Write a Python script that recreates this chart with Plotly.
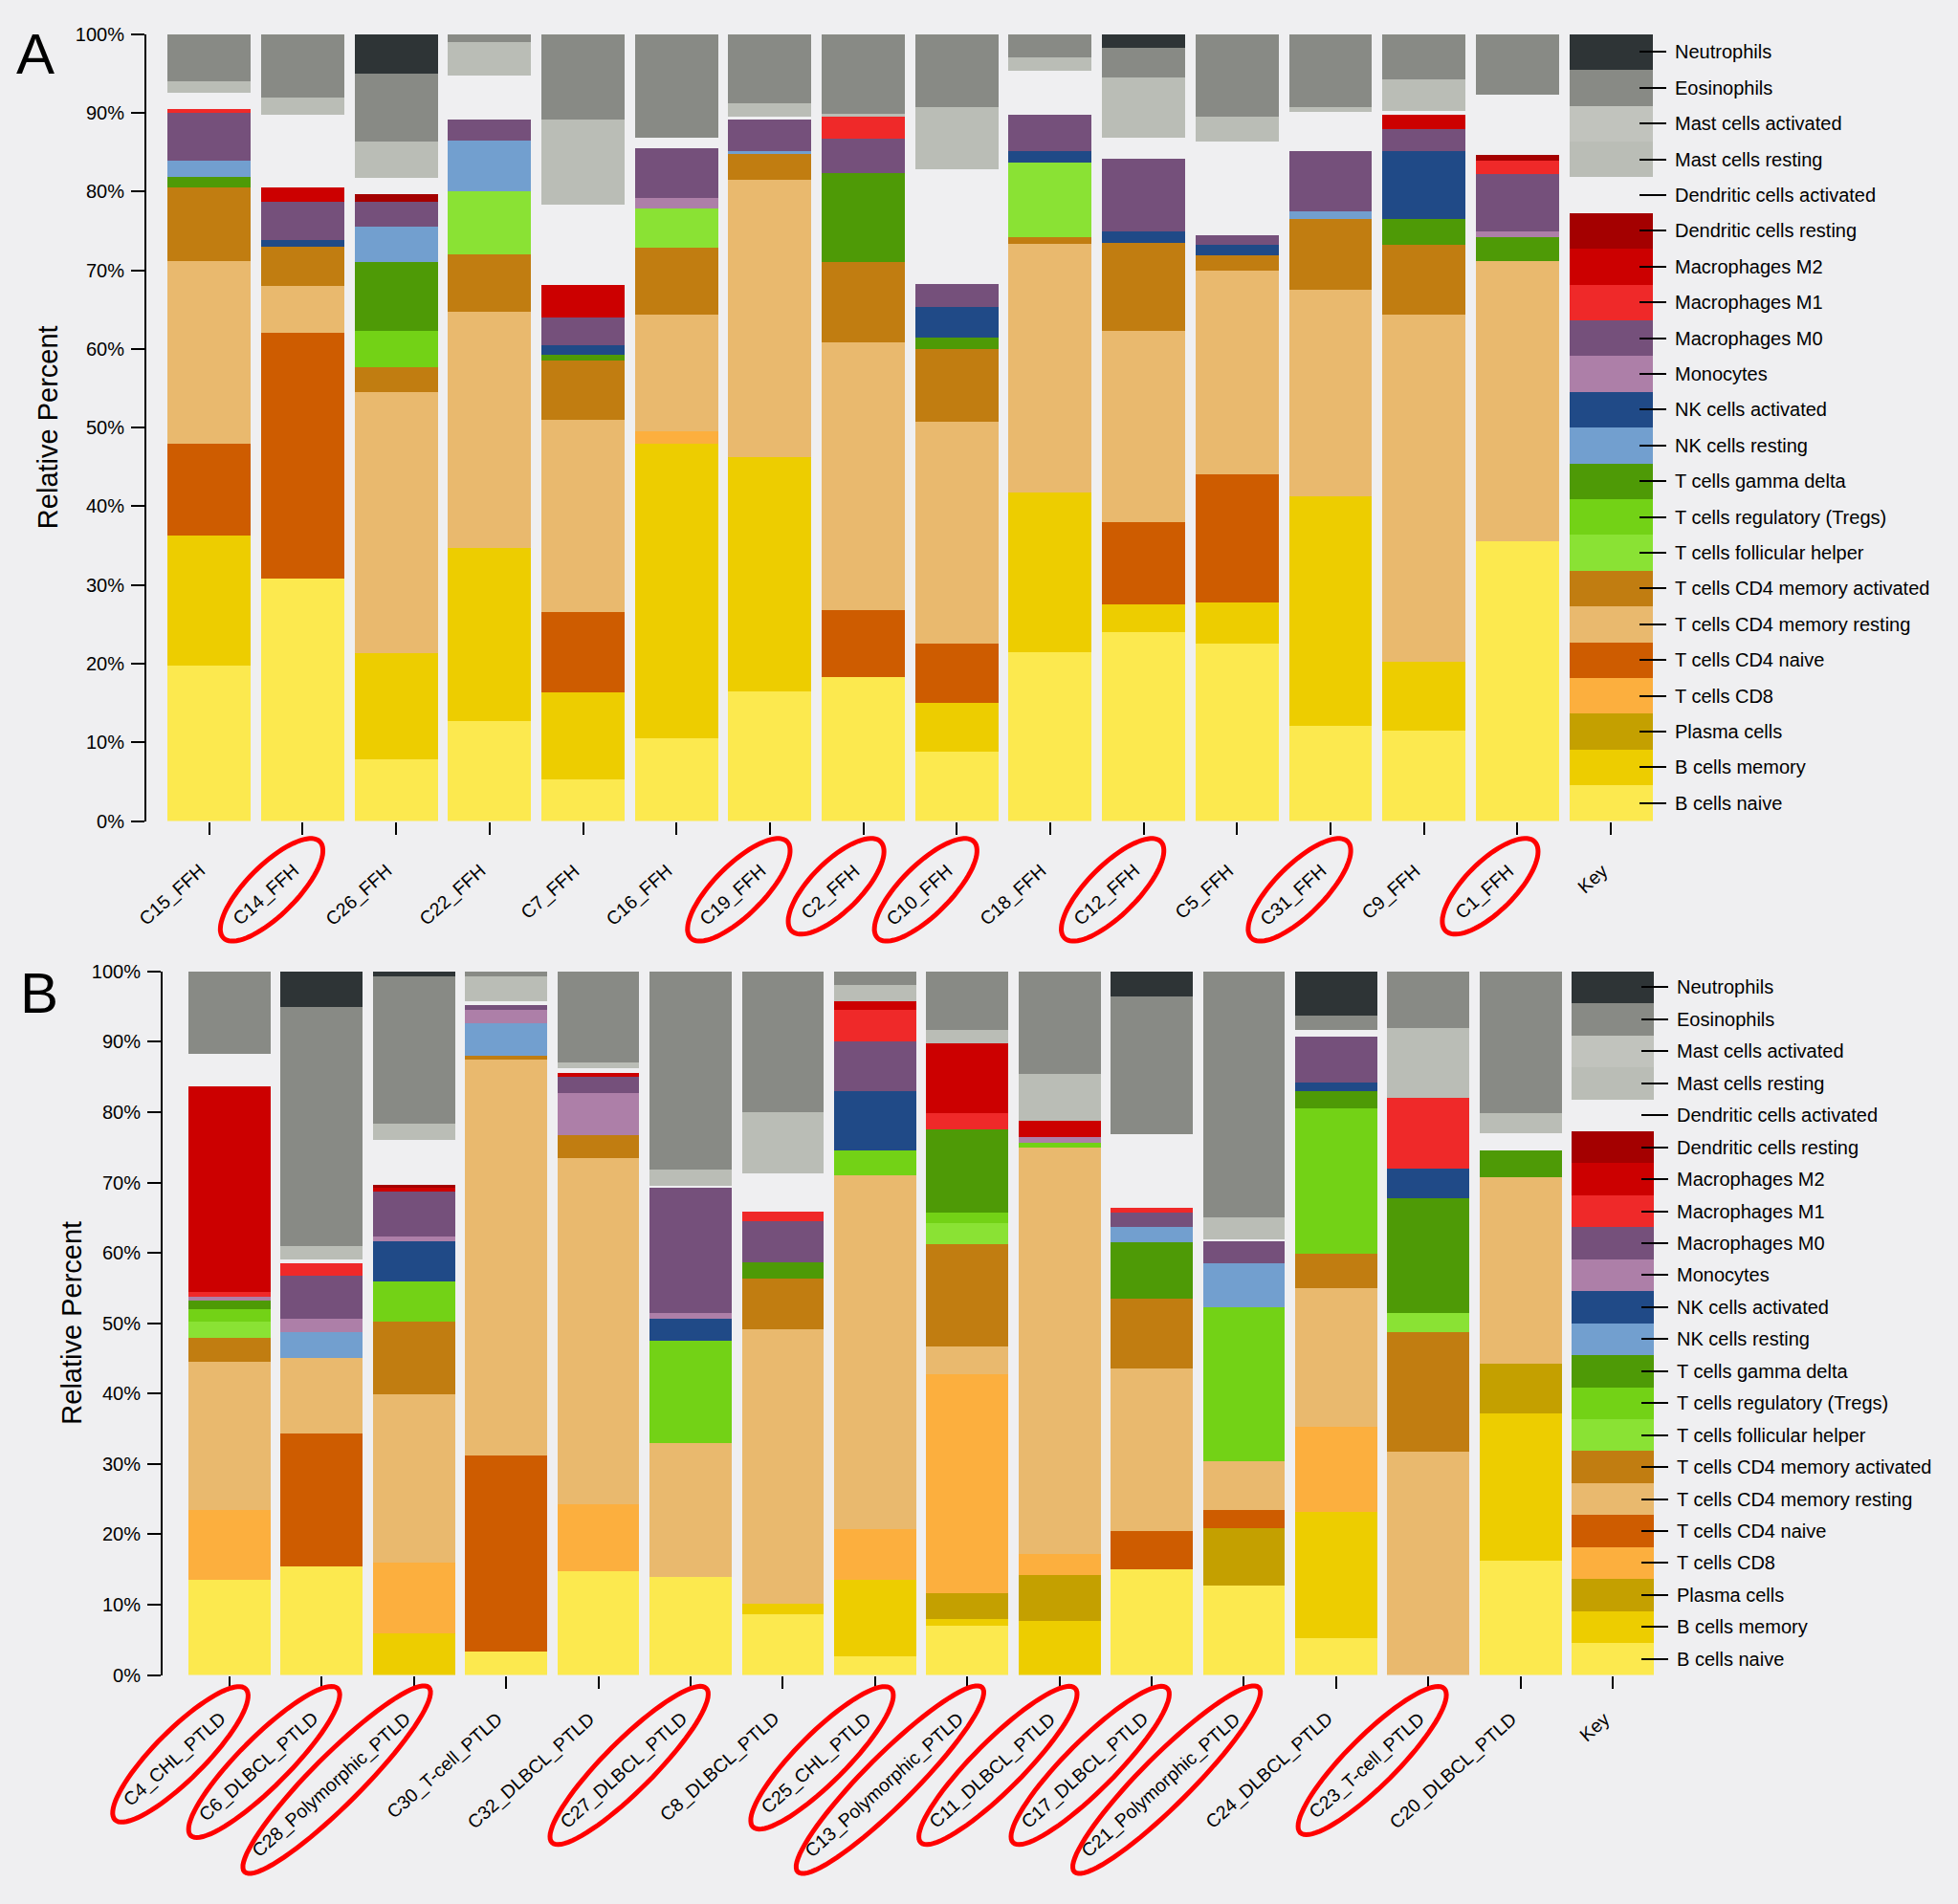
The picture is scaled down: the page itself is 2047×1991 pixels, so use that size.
import math
import plotly.graph_objects as go

# stacking order, bottom to top
cell_types = [
    "B cells naive", "B cells memory", "Plasma cells", "T cells CD8",
    "T cells CD4 naive", "T cells CD4 memory resting", "T cells CD4 memory activated",
    "T cells follicular helper", "T cells regulatory (Tregs)", "T cells gamma delta",
    "NK cells resting", "NK cells activated", "Monocytes", "Macrophages M0",
    "Macrophages M1", "Macrophages M2", "Dendritic cells resting",
    "Dendritic cells activated", "Mast cells resting", "Mast cells activated",
    "Eosinophils", "Neutrophils",
]
BG = "#efeff1"
cell_colors = [
    "#fce94f", "#edcd00", "#c4a000", "#fcaf3e",
    "#ce5c00", "#e9b96e", "#c17d11",
    "#8ae234", "#73d216", "#4e9a06",
    "#729fcf", "#204a87", "#ad7fa8", "#75507b",
    "#ef2929", "#cc0000", "#a40000",
    BG, "#babdb6", "#c1c3bd",
    "#888a85", "#2e3436",
]

# panel A: FFH samples (percent per cell type, same order as cell_types)
ffh_samples = ["C15_FFH", "C14_FFH", "C26_FFH", "C22_FFH", "C7_FFH", "C16_FFH", "C19_FFH",
               "C2_FFH", "C10_FFH", "C18_FFH", "C12_FFH", "C5_FFH", "C31_FFH", "C9_FFH", "C1_FFH"]
c15_ffh = [19.8, 16.5, 0, 0, 11.7, 23.2, 9.3, 0, 0, 1.4, 2.0, 0, 0, 6.1, 0.5, 0, 0, 2.0, 1.5, 0, 6.0, 0]
c14_ffh = [30.8, 0, 0, 0, 31.2, 6.0, 5.0, 0, 0, 0, 0, 0.8, 0, 4.9, 0, 1.8, 0, 9.3, 2.2, 0, 8.0, 0]
c26_ffh = [7.8, 13.5, 0, 0, 0, 33.2, 3.2, 0, 4.6, 8.7, 4.5, 0, 0, 3.2, 0, 0, 1.0, 2.0, 4.6, 0, 8.7, 5.0]
c22_ffh = [12.7, 22.0, 0, 0, 0, 30.0, 7.3, 8.0, 0, 0, 6.5, 0, 0, 2.7, 0, 0, 0, 5.5, 4.3, 0, 1.0, 0]
c7_ffh = [5.3, 11.0, 0, 0, 10.2, 24.5, 7.5, 0, 0, 0.8, 0, 1.2, 0, 3.5, 0, 4.1, 0, 10.2, 10.9, 0, 10.8, 0]
c16_ffh = [10.5, 37.5, 0, 1.5, 0, 14.8, 8.6, 5.0, 0, 0, 0, 0, 1.3, 6.3, 0, 0, 0, 1.3, 0, 0, 13.2, 0]
c19_ffh = [16.5, 29.8, 0, 0, 0, 35.2, 3.3, 0, 0, 0, 0.4, 0, 0, 4.1, 0, 0, 0, 0.2, 1.7, 0, 8.8, 0]
c2_ffh = [18.3, 0, 0, 0, 8.5, 34.0, 10.2, 0, 0, 11.3, 0, 0, 0, 4.4, 2.8, 0, 0, 0, 0.4, 0, 10.1, 0]
c10_ffh = [8.8, 6.2, 0, 0, 7.5, 28.2, 9.3, 0, 0, 1.5, 0, 3.8, 0, 3.0, 0, 0, 0, 14.5, 7.9, 0, 9.3, 0]
c18_ffh = [21.5, 20.2, 0, 0, 0, 31.6, 0.9, 9.5, 0, 0, 0, 1.5, 0, 4.5, 0, 0, 0, 5.6, 1.7, 0, 3.0, 0]
c12_ffh = [24.0, 3.5, 0, 0, 10.5, 24.3, 11.2, 0, 0, 0, 0, 1.4, 0, 9.3, 0, 0, 0, 2.6, 7.7, 0, 3.8, 1.7]
c5_ffh = [22.5, 5.3, 0, 0, 16.2, 26.0, 1.9, 0, 0, 0, 0, 1.3, 0, 1.3, 0, 0, 0, 11.8, 3.2, 0, 10.5, 0]
c31_ffh = [12.1, 29.2, 0, 0, 0, 26.2, 9.0, 0, 0, 0, 1.0, 0, 0, 7.7, 0, 0, 0, 4.9, 0.6, 0, 9.3, 0]
c9_ffh = [11.5, 8.8, 0, 0, 0, 44.0, 8.9, 0, 0, 3.3, 0, 8.7, 0, 2.7, 0, 1.8, 0, 0.6, 3.9, 0, 5.8, 0]
c1_ffh = [35.5, 0, 0, 0, 0, 35.7, 0, 0, 0, 3.0, 0, 0, 0.7, 7.3, 1.7, 0, 0.8, 7.6, 0, 0, 7.7, 0]
ffh_values = [c15_ffh, c14_ffh, c26_ffh, c22_ffh, c7_ffh, c16_ffh, c19_ffh, c2_ffh,
              c10_ffh, c18_ffh, c12_ffh, c5_ffh, c31_ffh, c9_ffh, c1_ffh]
ffh_circled = ["C14_FFH", "C19_FFH", "C2_FFH", "C10_FFH", "C12_FFH", "C31_FFH", "C1_FFH"]

# panel B: PTLD samples
ptld_samples = ["C4_CHL_PTLD", "C6_DLBCL_PTLD", "C28_Polymorphic_PTLD", "C30_T-cell_PTLD",
                "C32_DLBCL_PTLD", "C27_DLBCL_PTLD", "C8_DLBCL_PTLD", "C25_CHL_PTLD",
                "C13_Polymorphic_PTLD", "C11_DLBCL_PTLD", "C17_DLBCL_PTLD",
                "C21_Polymorphic_PTLD", "C24_DLBCL_PTLD", "C23_T-cell_PTLD", "C20_DLBCL_PTLD"]
c4_chl = [13.5, 0, 0, 9.9, 0, 21.1, 3.4, 2.3, 1.8, 1.2, 0, 0, 0.6, 0, 0.7, 29.2, 0, 4.6, 0, 0, 11.7, 0]
c6_dlbcl = [15.4, 0, 0, 0, 18.9, 10.7, 0, 0, 0, 0, 3.7, 0, 2.0, 6.0, 1.8, 0, 0, 0.5, 1.9, 0, 34.1, 5.0]
c28_poly = [0, 5.9, 0, 10.1, 0, 23.9, 10.3, 0, 5.7, 0, 0, 5.8, 0.6, 6.4, 0, 0.5, 0.5, 6.3, 2.3, 0, 21.0, 0.7]
c30_tcell = [3.4, 0, 0, 0, 27.8, 56.3, 0.5, 0, 0, 0, 4.6, 0, 1.9, 0.7, 0, 0, 0, 0.5, 3.6, 0, 0.7, 0]
c32_dlbcl = [14.7, 0, 0, 9.5, 0, 49.3, 3.2, 0, 0, 0, 0, 0, 6.0, 2.3, 0, 0.5, 0, 0.8, 0.7, 0, 13.0, 0]
c27_dlbcl = [13.9, 0, 0, 0, 0, 19.1, 0, 0, 14.5, 0, 0, 3.2, 0.8, 17.7, 0, 0, 0, 0.3, 2.3, 0, 28.2, 0]
c8_dlbcl = [8.7, 1.5, 0, 0, 0, 39.0, 7.2, 0, 0, 2.3, 0, 0, 0, 5.8, 1.4, 0, 0, 5.4, 8.7, 0, 20.0, 0]
c25_chl = [2.7, 10.8, 0, 7.2, 0, 50.3, 0, 0, 3.5, 0, 0, 8.5, 0, 7.0, 4.5, 1.2, 0, 0, 2.3, 0, 2.0, 0]
c13_poly = [7.0, 0.9, 3.7, 31.1, 0, 4.0, 14.5, 3.0, 1.5, 11.8, 0, 0, 0, 0, 2.3, 10.0, 0, 0, 1.9, 0, 8.3, 0]
c11_dlbcl = [0, 7.7, 6.5, 3.0, 0, 57.7, 0, 0, 0.8, 0, 0, 0, 0.7, 0, 0, 2.3, 0, 0, 6.7, 0, 14.6, 0]
c17_dlbcl = [15.0, 0, 0, 0, 5.4, 23.1, 10.0, 0, 0, 8.0, 2.2, 0, 0, 2.0, 0.7, 0, 0, 10.4, 0, 0, 19.7, 3.5]
c21_poly = [12.7, 0, 8.2, 0, 2.5, 7.0, 0, 0, 21.8, 0, 6.3, 0, 0, 3.2, 0, 0, 0, 0.2, 3.1, 0, 35.0, 0]
c24_dlbcl = [5.2, 18.0, 0, 12.1, 0, 19.7, 4.9, 0, 20.6, 2.5, 0, 1.2, 0, 6.5, 0, 0, 0, 1.0, 0, 0, 2.0, 6.3]
c23_tcell = [0, 0, 0, 0, 0, 31.7, 17.0, 2.8, 0, 16.3, 0, 4.2, 0, 0, 10.0, 0, 0, 0, 9.9, 0, 8.1, 0]
c20_dlbcl = [16.2, 21.0, 7.1, 0, 0, 26.5, 0, 0, 0, 3.7, 0, 0, 0, 0, 0, 0, 0, 2.5, 2.8, 0, 20.2, 0]
ptld_values = [c4_chl, c6_dlbcl, c28_poly, c30_tcell, c32_dlbcl, c27_dlbcl, c8_dlbcl, c25_chl,
               c13_poly, c11_dlbcl, c17_dlbcl, c21_poly, c24_dlbcl, c23_tcell, c20_dlbcl]
ptld_circled = ["C4_CHL_PTLD", "C6_DLBCL_PTLD", "C28_Polymorphic_PTLD", "C27_DLBCL_PTLD",
                "C25_CHL_PTLD", "C13_Polymorphic_PTLD", "C11_DLBCL_PTLD", "C17_DLBCL_PTLD",
                "C21_Polymorphic_PTLD", "C23_T-cell_PTLD"]

# key column: one equal block per cell type
key_values = [100 / 22] * 22

W, H = 2047, 1991
FONT = "Liberation Sans, Arial, Helvetica, sans-serif"
LABEL_SIZE = 19.5
ANGLE = 42

# rough Arial advance widths, to size the red rings round the labels
ARIAL = {"C": .722, "F": .611, "H": .722, "P": .667, "T": .611, "L": .556, "D": .722,
         "B": .667, "K": .667, "_": .556, "-": .333, "e": .556, "y": .5, "o": .556,
         "l": .222, "m": .833, "r": .333, "p": .556, "h": .556, "i": .222, "c": .5}


def text_len(s, size):
    return sum(ARIAL.get(ch, .556) for ch in s) * size


def ellipse_path(cx, cy, a, b, phi, n=80):
    pts = []
    for j in range(n):
        t = 2 * math.pi * j / n
        x = cx + a * math.cos(t) * math.cos(phi) - b * math.sin(t) * math.sin(phi)
        y = cy + a * math.cos(t) * math.sin(phi) + b * math.sin(t) * math.cos(phi)
        pts.append(f"{x:.1f},{y:.1f}")
    return "M" + " L".join(pts) + " Z"


fig = go.Figure()

panels = [
    dict(samples=ffh_samples, values=ffh_values, circled=ffh_circled, xa="x", ya="y",
         ka="y3", gap=49, xrange=[-0.673, 15.46]),
    dict(samples=ptld_samples, values=ptld_values, circled=ptld_circled, xa="x2", ya="y2",
         ka="y4", gap=43, xrange=[-0.726, 15.446]),
]

for p in panels:
    cats = p["samples"] + ["Key"]
    for k, (name, color) in enumerate(zip(cell_types, cell_colors)):
        fig.add_trace(go.Bar(
            x=cats,
            y=[v[k] for v in p["values"]] + [key_values[k]],
            name=name,
            marker=dict(color=color, line=dict(width=0)),
            xaxis=p["xa"], yaxis=p["ya"],
            showlegend=False,
        ))
    # empty trace so the key-label axis gets drawn
    fig.add_trace(go.Scatter(x=[], y=[], xaxis=p["xa"], yaxis=p["ka"],
                             showlegend=False, hoverinfo="skip"))

annotations = []
shapes = []
th = math.radians(ANGLE)
for p in panels:
    xref = p["xa"]
    yref = p["ya"]
    r0, r1 = p["xrange"]
    for i, lab in enumerate(p["samples"] + ["Key"]):
        half = text_len(lab, LABEL_SIZE) / 2
        dx = -7 - half * math.cos(th)
        dy = -(p["gap"] + half * math.sin(th))
        annotations.append(dict(
            text=lab, x=lab, y=0, xref=xref, yref=yref, showarrow=False,
            xanchor="center", yanchor="middle", textangle=-ANGLE,
            xshift=dx, yshift=dy, font=dict(family=FONT, size=LABEL_SIZE, color="black"),
        ))
        if lab in p["circled"]:
            # domain refs so the ring is not clipped to the plot area
            shapes.append(dict(
                type="path", xref=xref + " domain", yref=yref + " domain",
                xsizemode="pixel", ysizemode="pixel",
                xanchor=(i - r0) / (r1 - r0), yanchor=0,
                path=ellipse_path(dx + 8 * math.cos(th), dy + 8 * math.sin(th),
                                  half + 29, 26, math.radians(45)),
                line=dict(color="#ff0000", width=5), layer="above",
            ))

# y-axis titles and panel letters
annotations += [
    dict(text="Relative Percent", x=50 / W, y=1 - 441 / H, xref="paper", yref="paper",
         showarrow=False, textangle=-90, xanchor="center", yanchor="middle",
         font=dict(family=FONT, size=29, color="black")),
    dict(text="Relative Percent", x=75 / W, y=1 - 1388 / H, xref="paper", yref="paper",
         showarrow=False, textangle=-90, xanchor="center", yanchor="middle",
         font=dict(family=FONT, size=29, color="black")),
    dict(text="A", x=37 / W, y=1 - 46 / H, xref="paper", yref="paper", showarrow=False,
         xanchor="center", yanchor="middle", font=dict(family=FONT, size=60, color="black")),
    dict(text="B", x=41 / W, y=1 - 1039 / H, xref="paper", yref="paper", showarrow=False,
         xanchor="center", yanchor="middle", font=dict(family=FONT, size=60, color="black")),
]

pct_vals = list(range(0, 101, 10))
pct_text = [f"{v}%" for v in pct_vals]
key_pos = [(k + 0.5) * 100 / 22 for k in range(len(cell_types))]

common_x = dict(type="category", showline=False, showgrid=False, zeroline=False,
                showticklabels=False, ticks="outside", ticklen=13, tickwidth=2,
                tickcolor="black")
common_y = dict(range=[0, 100], tickvals=pct_vals, ticktext=pct_text, showgrid=False,
                zeroline=False, showline=True, linewidth=2, linecolor="black",
                ticks="outside", ticklen=14, tickwidth=2, tickcolor="black",
                ticklabelstandoff=3, tickfont=dict(family=FONT, size=20, color="black"))
key_y = dict(side="right", anchor="free", range=[0, 100], tickvals=key_pos,
             ticktext=cell_types, showgrid=False, zeroline=False, showline=False,
             ticks="outside", ticklen=28, tickwidth=2, tickcolor="black",
             ticklabelstandoff=5, tickfont=dict(family=FONT, size=20, color="black"))

fig.update_layout(
    width=W, height=H,
    margin=dict(l=0, r=0, t=0, b=0),
    paper_bgcolor=BG, plot_bgcolor=BG,
    barmode="stack", bargap=0.11,
    xaxis=dict(domain=[153 / W, 1729 / W], anchor="y", range=panels[0]["xrange"], **common_x),
    yaxis=dict(domain=[1 - 857 / H, 1 - 25 / H], anchor="x", **common_y),
    xaxis2=dict(domain=[170 / W, 1729 / W], anchor="y2", range=panels[1]["xrange"], **common_x),
    yaxis2=dict(domain=[1 - 1760 / H, 1 - 1016 / H], anchor="x2", **common_y),
    yaxis3=dict(overlaying="y", position=1713 / W, **key_y),
    yaxis4=dict(overlaying="y2", position=1715 / W, **key_y),
    annotations=annotations,
    shapes=shapes,
)

fig.write_html("out.html", config={"displayModeBar": False},
               post_script="document.body.style.margin = '0';")
